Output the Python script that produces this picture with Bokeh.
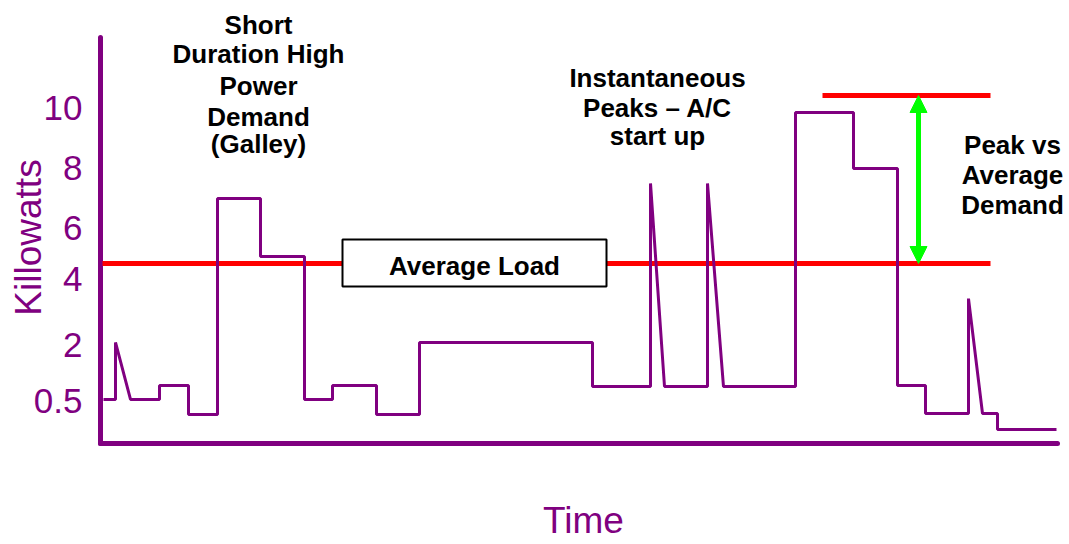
from bokeh.plotting import figure
from bokeh.models import Range1d, FixedTicker, Label, BoxAnnotation, Arrow, NormalHead
from bokeh.embed import file_html
from bokeh.resources import INLINE

# ---- data (time in arbitrary units, load in chart "levels") ----
time_pts = [0.3, 1.5, 1.5, 3.0, 5.9, 5.9, 8.8, 8.8, 11.7, 11.7, 16.0, 16.0, 20.4, 20.4,
            23.2, 23.2, 27.6, 27.6, 31.9, 31.9, 49.2, 49.2, 55.0, 55.0, 56.4, 60.7,
            60.7, 62.3, 69.5, 69.5, 75.3, 75.3, 79.7, 79.7, 82.5, 82.5, 86.8, 86.8,
            88.2, 89.7, 89.7, 95.6]
load_pts = [1.47, 1.47, 3.37, 1.47, 1.47, 1.93, 1.93, 0.97, 0.97, 8.17, 8.17, 6.23, 6.23, 1.47,
            1.47, 1.93, 1.93, 0.97, 0.97, 3.37, 3.37, 1.90, 1.90, 8.67, 1.90, 1.90,
            8.67, 1.90, 1.90, 11.03, 11.03, 9.17, 9.17, 1.93, 1.93, 1.00, 1.00, 4.83,
            1.00, 1.00, 0.47, 0.47]

avg_load = 6.0
peak_load = 11.6
avg_span = [0.2, 89.0]
peak_span = [72.2, 89.0]
arrow_time = 81.8

tick_pos = [1.43, 3.27, 5.5, 7.17, 9.2, 11.2]
tick_labels = ["0.5", "2", "4", "6", "8", "10"]

axis_x_end = 95.7
axis_y_end = 13.53

# annotation texts
galley_lines = ["Short", "Duration High", "Power", "Demand", "(Galley)"]
galley_x, galley_y = 15.8, [13.95, 12.97, 11.93, 10.9, 9.97]
ac_lines = ["Instantaneous", "Peaks \u2013 A/C", "start up"]
ac_x, ac_y = 55.7, [12.2, 11.2, 10.25]
pk_lines = ["Peak vs", "Average", "Demand"]
pk_x, pk_y = 91.2, [9.95, 8.95, 7.95]
avg_box = dict(left=24.2, right=50.6, bottom=5.23, top=6.8)
avg_text_pos = (37.4, 5.92)

PURPLE = "#800080"
FONT = "Liberation Sans"

p = figure(width=1069, height=544, output_backend="svg", toolbar_location=None,
           x_range=Range1d(-0.3, 96.9), y_range=Range1d(-1.033, 14.767),
           min_border_left=97, min_border_top=0, min_border_right=0, min_border_bottom=70)
p.outline_line_color = None
p.xgrid.visible = False
p.ygrid.visible = False
p.background_fill_color = "white"
p.border_fill_color = "white"

# y axis (labels only, line drawn below as part of the chart frame)
ya = p.yaxis[0]
ya.ticker = FixedTicker(ticks=tick_pos)
ya.major_label_overrides = {t: l for t, l in zip(tick_pos, tick_labels)}
ya.major_tick_line_color = None
ya.minor_tick_line_color = None
ya.major_label_standoff = 9
ya.major_label_text_font = FONT
ya.major_label_text_font_size = "35px"
ya.major_label_text_color = PURPLE
ya.axis_line_color = None
ya.axis_label = "Killowatts"
ya.axis_label_text_font = FONT
ya.axis_label_text_font_size = "37px"
ya.axis_label_text_font_style = "normal"
ya.axis_label_text_color = PURPLE
ya.axis_label_standoff = -18

# x axis
xa = p.xaxis[0]
xa.ticker = FixedTicker(ticks=[])
xa.major_tick_line_color = None
xa.minor_tick_line_color = None
xa.major_label_standoff = 0
xa.axis_line_color = None
xa.axis_label = "Time"
xa.axis_label_text_font = FONT
xa.axis_label_text_font_size = "37px"
xa.axis_label_text_font_style = "normal"
xa.axis_label_text_color = PURPLE
xa.axis_label_text_line_height = 0.6
xa.axis_label_standoff = 25

# axis lines
p.line([0, axis_x_end], [0, 0], line_color=PURPLE, line_width=5, line_cap="round")
p.line([0, 0], [0, axis_y_end], line_color=PURPLE, line_width=5, line_cap="round")

# red reference lines
p.line(avg_span, [avg_load, avg_load], line_color="#FF0000", line_width=5)
p.line(peak_span, [peak_load, peak_load], line_color="#FF0000", line_width=5)

# load trace
p.line(time_pts, load_pts, line_color=PURPLE, line_width=3)

# peak vs average arrow
p.add_layout(Arrow(start=NormalHead(size=17, fill_color="#00FF00", line_color="#00FF00"),
                   end=NormalHead(size=17, fill_color="#00FF00", line_color="#00FF00"),
                   x_start=arrow_time, y_start=avg_load, x_end=arrow_time, y_end=peak_load,
                   line_color="#00FF00", line_width=5))

# Average load box
p.add_layout(BoxAnnotation(fill_color="white", fill_alpha=1.0, line_color="black",
                           line_width=2, line_alpha=1.0, level="annotation", **avg_box))
p.add_layout(Label(x=avg_text_pos[0], y=avg_text_pos[1], text="Average Load",
                   text_align="center", text_baseline="alphabetic", text_font=FONT,
                   text_font_size="26px", text_font_style="bold", text_color="black"))

for lines, lx, lys in [(galley_lines, galley_x, galley_y), (ac_lines, ac_x, ac_y), (pk_lines, pk_x, pk_y)]:
    for t, ly in zip(lines, lys):
        p.add_layout(Label(x=lx, y=ly, text=t, text_align="center", text_baseline="alphabetic",
                           text_font=FONT, text_font_size="26px", text_font_style="bold",
                           text_color="black"))

open("out.html", "w").write(file_html(p, INLINE))
